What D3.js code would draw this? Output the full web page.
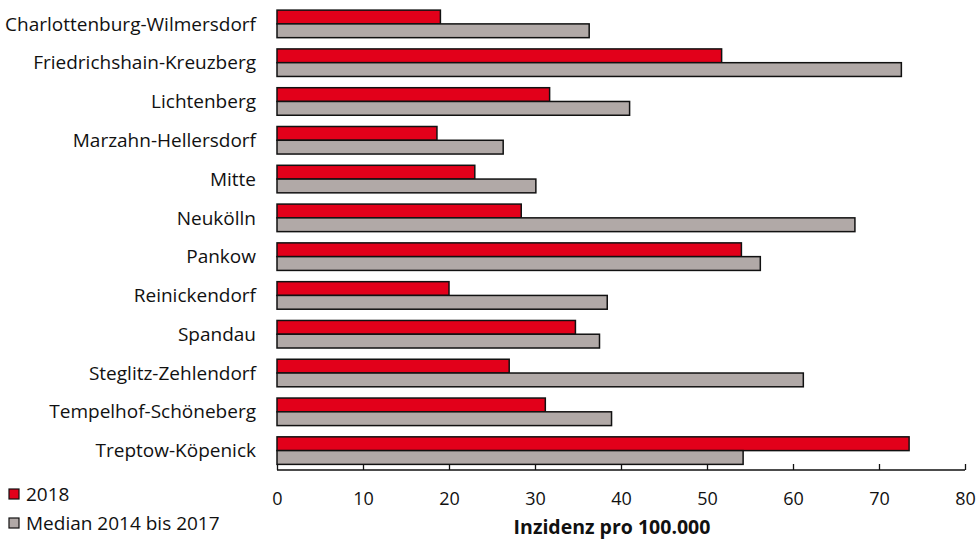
<!DOCTYPE html>
<html><head><meta charset="utf-8">
<script src="https://cdn.jsdelivr.net/npm/d3@7"></script>
<style>body{margin:0;background:#fff;} text{font-family:"Open Sans",Lato,sans-serif;}</style>
</head><body>
<svg id="c" width="976" height="540"></svg>
<script>
const categories = ["Charlottenburg-Wilmersdorf","Friedrichshain-Kreuzberg","Lichtenberg","Marzahn-Hellersdorf","Mitte","Neukölln","Pankow","Reinickendorf","Spandau","Steglitz-Zehlendorf","Tempelhof-Schöneberg","Treptow-Köpenick"];
const values2018 = [19.0, 51.7, 31.7, 18.6, 23.0, 28.4, 54.0, 20.0, 34.7, 27.0, 31.2, 73.5];
const valuesMedian = [36.3, 72.6, 41.0, 26.3, 30.1, 67.2, 56.2, 38.4, 37.5, 61.2, 38.9, 54.2];
const seriesNames = ["2018", "Median 2014 bis 2017"];
const xTicks = [0,10,20,30,40,50,60,70,80];
const colors = ["#E2001A", "#B1A9A7"];

const svg = d3.select("#c");
const x = d3.scaleLinear().domain([0,80]).range([277,965]);
const y = d3.scaleBand().domain(categories).range([4.5,470]).paddingInner(0.29).paddingOuter(0.145);
const sub = d3.scaleBand().domain([0,1]).range([0,y.bandwidth()]);

const series = [values2018, valuesMedian];
series.forEach((vals,si)=>{
  svg.append("g").selectAll("rect").data(categories).join("rect")
    .attr("x", x(0))
    .attr("y", (d)=>y(d)+sub(si))
    .attr("width", (d,i)=>x(vals[i])-x(0))
    .attr("height", sub.bandwidth())
    .attr("fill", colors[si])
    .attr("stroke","#111").attr("stroke-width",1.5);
});

// category labels
svg.append("g").selectAll("text").data(categories).join("text")
  .attr("x",256).attr("y",d=>y(d)+y.bandwidth()/2)
  .attr("dy","0.35em").attr("text-anchor","end")
  .attr("font-size",19).attr("fill","#111").text(d=>d);

// x axis
const ax = svg.append("g").attr("transform","translate(0,470)")
  .call(d3.axisBottom(x).tickValues(xTicks).tickSize(6).tickSizeOuter(0).tickPadding(8));
ax.select(".domain").attr("stroke","#111").attr("stroke-width",1.3).attr("d","M277,0H965");
ax.selectAll(".tick line").attr("stroke","#111").attr("stroke-width",1.3).attr("y1",-6).attr("y2",0);
ax.selectAll(".tick text").attr("font-size",18).attr("fill","#111")
  .attr("font-family","'Open Sans',Lato,sans-serif").attr("y",29).attr("dy","0.35em");

svg.append("text").attr("x",612).attr("y",527).attr("dy","0.35em").attr("text-anchor","middle")
  .attr("font-size",19.5).attr("font-weight","bold").attr("fill","#111").text("Inzidenz pro 100.000");

// legend
const lg = svg.append("g");
seriesNames.forEach((n,i)=>{
  const yy = 494 + i*29;
  lg.append("rect").attr("x",9).attr("y",yy-5).attr("width",10).attr("height",10)
    .attr("fill",colors[i]).attr("stroke","#111").attr("stroke-width",1.2);
  lg.append("text").attr("x",26).attr("y",yy).attr("dy","0.35em")
    .attr("font-size",19).attr("fill","#111").text(n);
});
</script>
</body></html>
